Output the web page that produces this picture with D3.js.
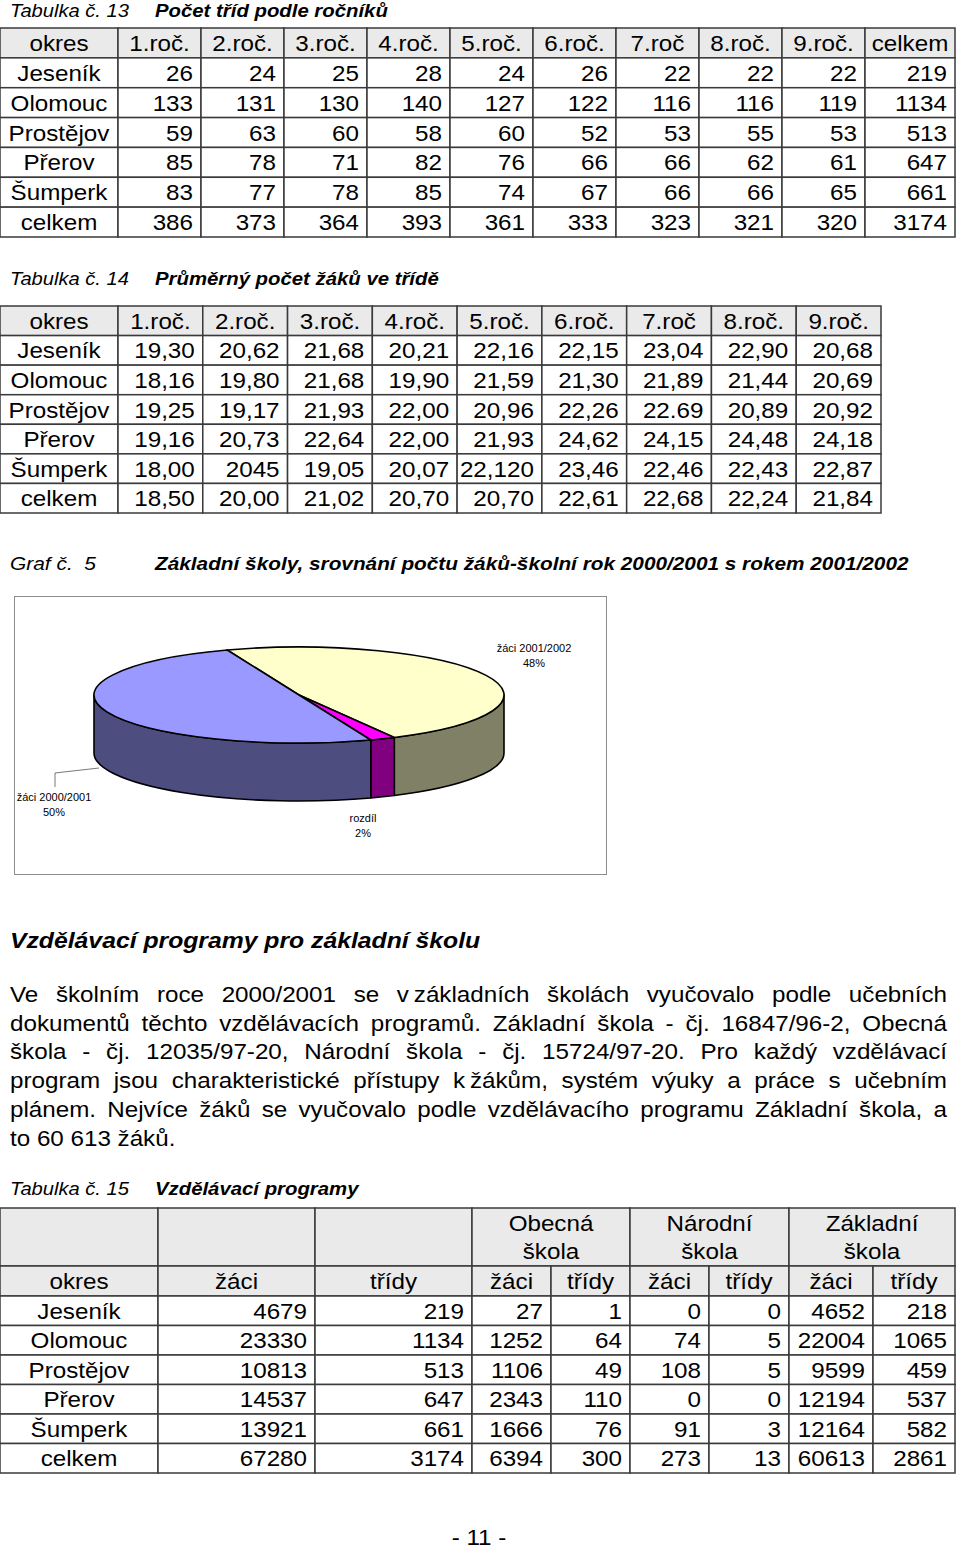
<!DOCTYPE html>
<html lang="cs">
<head>
<meta charset="UTF-8">
<title>Počet tříd, průměrný počet žáků a vzdělávací programy</title>
<script src="https://d3js.org/d3.v7.min.js"></script>
<style>
  body { margin: 0; background: #fff; }
  svg { display: block; }
  svg text { font-family: "Liberation Sans", Arial, sans-serif; fill: #000; white-space: pre; }
  .cell { stroke: #3a3a3a; stroke-width: 1.5; }
</style>
</head>
<body>
<svg id="page" width="960" height="1550"></svg>
<script>
// ---------- data ----------
const districts = ["Jeseník", "Olomouc", "Prostějov", "Přerov", "Šumperk", "celkem"];
const grades = ["1.roč.", "2.roč.", "3.roč.", "4.roč.", "5.roč.", "6.roč.", "7.roč", "8.roč.", "9.roč."];

// Tabulka 13 – počet tříd
const classesByGrade = [
  [26, 24, 25, 28, 24, 26, 22, 22, 22],
  [133, 131, 130, 140, 127, 122, 116, 116, 119],
  [59, 63, 60, 58, 60, 52, 53, 55, 53],
  [85, 78, 71, 82, 76, 66, 66, 62, 61],
  [83, 77, 78, 85, 74, 67, 66, 66, 65],
  [386, 373, 364, 393, 361, 333, 323, 321, 320]
];
const classesTotal = [219, 1134, 513, 647, 661, 3174];

// Tabulka 14 – průměrný počet žáků (kept as printed)
const avgPupils = [
  ["19,30", "20,62", "21,68", "20,21", "22,16", "22,15", "23,04", "22,90", "20,68"],
  ["18,16", "19,80", "21,68", "19,90", "21,59", "21,30", "21,89", "21,44", "20,69"],
  ["19,25", "19,17", "21,93", "22,00", "20,96", "22,26", "22.69", "20,89", "20,92"],
  ["19,16", "20,73", "22,64", "22,00", "21,93", "24,62", "24,15", "24,48", "24,18"],
  ["18,00", "2045", "19,05", "20,07", "22,120", "23,46", "22,46", "22,43", "22,87"],
  ["18,50", "20,00", "21,02", "20,70", "20,70", "22,61", "22,68", "22,24", "21,84"]
];

// Tabulka 15 – vzdělávací programy
const programs = [["Obecná", "škola"], ["Národní", "škola"], ["Základní", "škola"]];
const pupilsTotal = [4679, 23330, 10813, 14537, 13921, 67280];
const obecnaPupils = [27, 1252, 1106, 2343, 1666, 6394];
const obecnaClasses = [1, 64, 49, 110, 76, 300];
const narodniPupils = [0, 74, 108, 0, 91, 273];
const narodniClasses = [0, 5, 5, 0, 3, 13];
const zakladniPupils = [4652, 22004, 9599, 12194, 12164, 60613];
const zakladniClasses = [218, 1065, 459, 537, 582, 2861];

// Graf 5
const pieLabels = ["žáci 2001/2002", "rozdíl", "žáci 2000/2001"];
const pieShares = [48, 2, 50];
const pieTop = ["#ffffcc", "#ff00ff", "#9999ff"];
const pieSide = ["#808066", "#800080", "#4d4d80"];

// the narrow no-break space after one-letter prepositions is not stretched
const paragraph = [
  "Ve školním roce 2000/2001 se v\u202Fzákladních školách vyučovalo podle učebních",
  "dokumentů těchto vzdělávacích programů. Základní škola - čj. 16847/96-2, Obecná",
  "škola - čj. 12035/97-20, Národní škola - čj. 15724/97-20. Pro každý vzdělávací",
  "program jsou charakteristické přístupy k\u202Fžákům, systém výuky a práce s učebním",
  "plánem. Nejvíce žáků se vyučovalo podle vzdělávacího programu Základní škola, a",
  "to 60 613 žáků."
];

// ---------- helpers ----------
const SX = 1.1; // the scan is a little wider than the font
const svg = d3.select("#page");
svg.append("rect").attr("width", 960).attr("height", 1550).attr("fill", "#fff");

function txt(g, x, y, s, o = {}) {
  return g.append("text")
    .attr("transform", `translate(${x},${y}) scale(${SX},1)`)
    .attr("text-anchor", o.anchor || "start")
    .style("font-size", (o.size || 22) + "px")
    .style("font-weight", o.bold ? "bold" : null)
    .style("font-style", o.italic ? "italic" : null)
    .text(s);
}

function cell(g, x0, x1, y0, y1, lines, align, fill) {
  g.append("rect").attr("class", "cell")
    .attr("x", x0).attr("y", y0).attr("width", x1 - x0).attr("height", y1 - y0)
    .attr("fill", fill || "#fff");
  if (lines == null) return;
  lines = [].concat(lines);
  const cy = (y0 + y1) / 2;
  const x = align === "right" ? x1 - 8 : (x0 + x1) / 2;
  const anchor = align === "right" ? "end" : "middle";
  lines.forEach((s, i) => {
    const y = cy + 8 + (i - (lines.length - 1) / 2) * 28;
    txt(g, x, y, String(s), { anchor });
  });
}

function caption(y, num, title) {
  txt(svg, 10, y, num, { size: 18.3, italic: true });
  txt(svg, 155, y, title, { size: 18.5, bold: true, italic: true });
}

const HDR = "#eaeaea";

// ---------- Tabulka 13 ----------
caption(17, "Tabulka č. 13", "Počet tříd podle ročníků");
{
  const g = svg.append("g");
  const x = d3.scaleBand().domain(grades).range([118, 865]);
  const y = d3.scaleBand().domain(["hdr", ...districts]).range([28, 237]);
  cell(g, 0, 118, y("hdr"), y("hdr") + y.bandwidth(), "okres", "center", HDR);
  grades.forEach(gr => cell(g, x(gr), x(gr) + x.bandwidth(), y("hdr"), y("hdr") + y.bandwidth(), gr, "center", HDR));
  cell(g, 865, 955, y("hdr"), y("hdr") + y.bandwidth(), "celkem", "center", HDR);
  districts.forEach((d, r) => {
    const y0 = y(d), y1 = y0 + y.bandwidth();
    cell(g, 0, 118, y0, y1, d, "center");
    grades.forEach((gr, c) => cell(g, x(gr), x(gr) + x.bandwidth(), y0, y1, classesByGrade[r][c], "right"));
    cell(g, 865, 955, y0, y1, classesTotal[r], "right");
  });
}

// ---------- Tabulka 14 ----------
caption(285, "Tabulka č. 14", "Průměrný počet žáků ve třídě");
{
  const g = svg.append("g");
  const x = d3.scaleBand().domain(grades).range([118, 881]);
  const y = d3.scaleBand().domain(["hdr", ...districts]).range([306, 513]);
  cell(g, 0, 118, y("hdr"), y("hdr") + y.bandwidth(), "okres", "center", HDR);
  grades.forEach(gr => cell(g, x(gr), x(gr) + x.bandwidth(), y("hdr"), y("hdr") + y.bandwidth(), gr, "center", HDR));
  districts.forEach((d, r) => {
    const y0 = y(d), y1 = y0 + y.bandwidth();
    cell(g, 0, 118, y0, y1, d, "center");
    grades.forEach((gr, c) => cell(g, x(gr), x(gr) + x.bandwidth(), y0, y1, avgPupils[r][c], "right"));
  });
}

// ---------- Graf 5 ----------
txt(svg, 10, 570, "Graf č.  5", { size: 19, italic: true });
txt(svg, 155, 570, "Základní školy, srovnání počtu žáků-školní rok 2000/2001 s rokem 2001/2002", { size: 18.9, bold: true, italic: true });
svg.append("rect").attr("x", 14.5).attr("y", 596.5).attr("width", 592).attr("height", 278)
  .attr("fill", "#fff").attr("stroke", "#8c8c8c").attr("stroke-width", 1);
{
  const cx = 299, cy = 695, rx = 205, ry = 48, depth = 58;
  const startA = -20.5 * Math.PI / 180;
  const pie = d3.pie().sort(null).startAngle(startA).endAngle(startA + 2 * Math.PI);
  const arcs = pie(pieShares);
  const pt = (a, dy) => [cx + rx * Math.sin(a), cy - ry * Math.cos(a) + dy];
  const g = svg.append("g");

  // walls of the front half
  arcs.forEach((d, i) => {
    const a0 = Math.max(d.startAngle, Math.PI / 2);
    const a1 = Math.min(d.endAngle, 3 * Math.PI / 2);
    if (a1 <= a0) return;
    const p0 = pt(a0, 0), p1 = pt(a1, 0), q1 = pt(a1, depth), q0 = pt(a0, depth);
    g.append("path")
      .attr("d", `M${p0}A${rx},${ry} 0 0 1 ${p1}L${q1}A${rx},${ry} 0 0 0 ${q0}Z`)
      .attr("fill", pieSide[i]).attr("stroke", "#000").attr("stroke-width", 1.6)
      .attr("stroke-linejoin", "round");
  });

  // top faces
  const arc = d3.arc().innerRadius(0).outerRadius(rx);
  g.append("g").attr("transform", `translate(${cx},${cy}) scale(1,${ry / rx})`)
    .selectAll("path").data(arcs).join("path")
    .attr("d", arc)
    .attr("fill", (d, i) => pieTop[i])
    .attr("stroke", "#000").attr("stroke-width", 1.6)
    .attr("vector-effect", "non-scaling-stroke")
    .attr("stroke-linejoin", "round");

  // data labels
  const pct = v => v + "%";
  const lbl = [
    { x: 534, y: 652 },
    { x: 363, y: 822 },
    { x: 54, y: 801 }
  ];
  pieLabels.forEach((s, i) => {
    txt(g, lbl[i].x, lbl[i].y, s, { size: 10, anchor: "middle" });
    txt(g, lbl[i].x, lbl[i].y + 14.5, pct(pieShares[i]), { size: 10, anchor: "middle" });
  });
  g.append("polyline").attr("points", "99,768 55,773 55,787")
    .attr("fill", "none").attr("stroke", "#555").attr("stroke-width", 0.8);
}

// ---------- text ----------
txt(svg, 10, 948, "Vzdělávací programy pro základní školu", { size: 22.5, bold: true, italic: true });
paragraph.forEach((line, i) => {
  const t = txt(svg, 10, 1002 + i * 28.7, line, { size: 22 });
  if (i < paragraph.length - 1) {
    const target = (947 - 10) / SX;
    const natural = t.node().getComputedTextLength();
    const gaps = line.split(" ").length - 1;
    t.style("word-spacing", ((target - natural) / gaps) + "px");
  }
});

// ---------- Tabulka 15 ----------
caption(1195, "Tabulka č. 15", "Vzdělávací programy");
{
  const g = svg.append("g");
  const cols = [0, 158, 315, 472, 551, 630, 709, 789, 873, 955];
  const y = d3.scaleBand().domain(districts).range([1296, 1473]);
  const h0 = 1208, h1 = 1266, h2 = 1296;
  [0, 1, 2].forEach(c => cell(g, cols[c], cols[c + 1], h0, h1, null, "center", HDR));
  programs.forEach((p, k) => cell(g, cols[3 + 2 * k], cols[5 + 2 * k], h0, h1, p, "center", HDR));
  ["okres", "žáci", "třídy", "žáci", "třídy", "žáci", "třídy", "žáci", "třídy"]
    .forEach((s, c) => cell(g, cols[c], cols[c + 1], h1, h2, s, "center", HDR));
  const colData = [pupilsTotal, classesTotal, obecnaPupils, obecnaClasses,
    narodniPupils, narodniClasses, zakladniPupils, zakladniClasses];
  districts.forEach((d, r) => {
    const y0 = y(d), y1 = y0 + y.bandwidth();
    cell(g, cols[0], cols[1], y0, y1, d, "center");
    colData.forEach((arr, c) => cell(g, cols[c + 1], cols[c + 2], y0, y1, arr[r], "right"));
  });
}

txt(svg, 479, 1545, "- 11 -", { size: 22, anchor: "middle" });
</script>
</body>
</html>
